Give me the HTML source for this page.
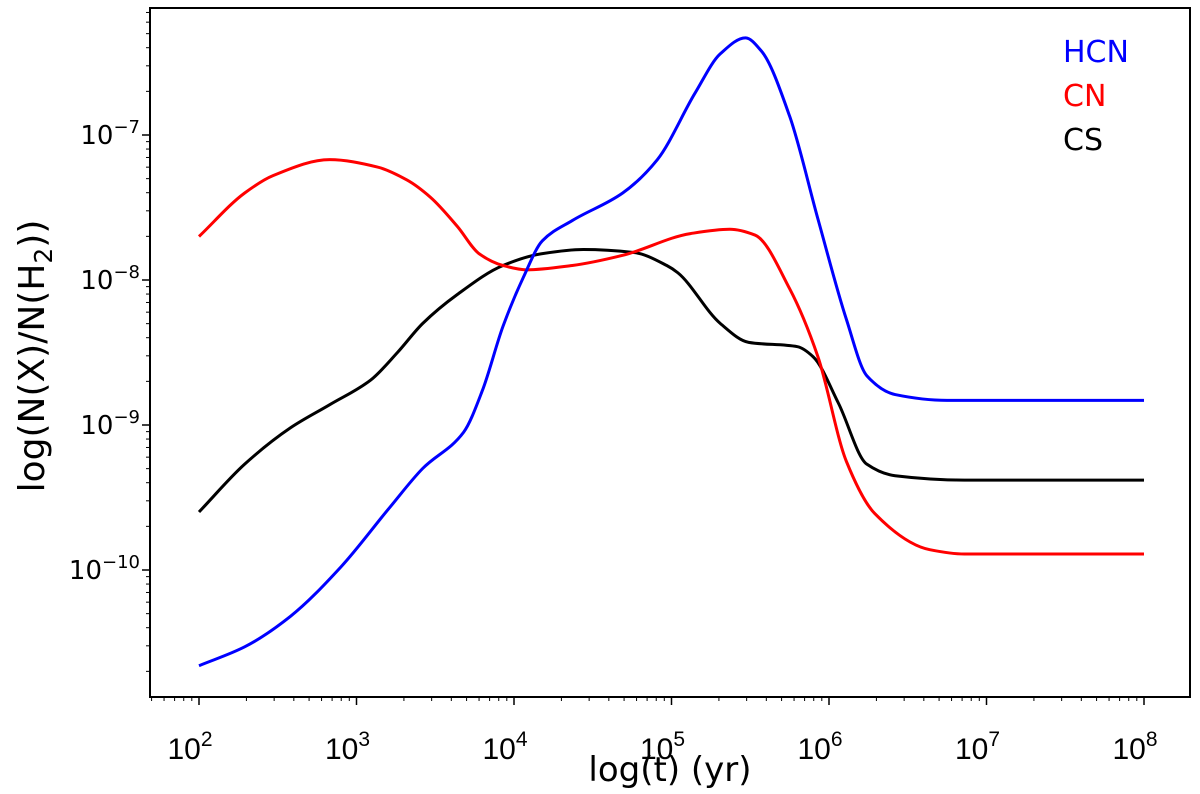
<!DOCTYPE html>
<html><head><meta charset="utf-8"><style>
html,body{margin:0;padding:0;background:#fff;}
svg{display:block;font-family:"DejaVu Sans","Liberation Sans",sans-serif;}
</style></head><body>
<svg id="chart" width="1200" height="794" viewBox="0 0 1200 794">
<rect x="0" y="0" width="1200" height="794" fill="#fff"/>
<g id="ticks"></g>
<g id="lines"></g>
<rect x="150" y="8" width="1040" height="689" fill="none" stroke="#000" stroke-width="2"/>
<text x="670" y="781" font-size="34" text-anchor="middle">log(t) (yr)</text>
<text transform="translate(44,356) rotate(-90)" font-size="36" text-anchor="middle">log(N(X)/N(H<tspan font-size="25" dy="8">2</tspan><tspan dy="-8">))</tspan></text>
<text x="1063" y="62" font-size="30" fill="#0000ff">HCN</text>
<text x="1063" y="106" font-size="30" fill="#ff0000">CN</text>
<text x="1063" y="150" font-size="30" fill="#000">CS</text>
</svg>
<script>
// data in log10 units
const xTickExps = [2,3,4,5,6,7,8];
const yTickExps = [-7,-8,-9,-10];
const hcnT = [2.0,2.29,2.58,2.90,3.21,3.42,3.68,3.80,3.93,4.06,4.18,4.37,4.69,4.91,5.15,5.31,5.47,5.57,5.75,5.93,6.11,6.24,6.42,6.75,7.2,8.0];
const hcnV = [-10.66,-10.53,-10.32,-9.98,-9.57,-9.30,-9.05,-8.76,-8.32,-7.98,-7.73,-7.59,-7.40,-7.17,-6.71,-6.44,-6.33,-6.42,-6.87,-7.58,-8.27,-8.66,-8.79,-8.83,-8.83,-8.83];
const cnT = [2.0,2.29,2.47,2.83,3.13,3.32,3.47,3.64,3.78,3.93,4.08,4.37,4.69,5.12,5.37,5.53,5.75,5.93,6.11,6.29,6.64,6.86,7.3,8.0];
const cnV = [-7.70,-7.40,-7.28,-7.17,-7.22,-7.31,-7.43,-7.63,-7.82,-7.90,-7.93,-7.90,-7.83,-7.68,-7.65,-7.69,-8.06,-8.53,-9.25,-9.61,-9.86,-9.89,-9.89,-9.89];
const csT = [2.0,2.29,2.58,2.83,3.09,3.26,3.42,3.64,3.93,4.17,4.44,4.76,4.97,5.04,5.31,5.49,5.80,5.90,6.06,6.24,6.42,6.86,7.3,8.0];
const csV = [-9.60,-9.27,-9.02,-8.86,-8.69,-8.50,-8.30,-8.10,-7.90,-7.82,-7.79,-7.81,-7.90,-7.95,-8.30,-8.43,-8.46,-8.53,-8.85,-9.27,-9.35,-9.38,-9.38,-9.38];

const NS='http://www.w3.org/2000/svg';
const L=150,R=1190,T=8,B=697;
function xs(e){return 199+(e-2)*157.5;}
function ys(e){return 135-(e+7)*145;}
const tg=document.getElementById('ticks');
function line(x1,y1,x2,y2,w){const l=document.createElementNS(NS,'line');
l.setAttribute('x1',x1);l.setAttribute('y1',y1);l.setAttribute('x2',x2);l.setAttribute('y2',y2);
l.setAttribute('stroke','#000');l.setAttribute('stroke-width',w);


tg.appendChild(l);}
const xmin=2+(L-199)/157.5,xmax=2+(R-199)/157.5;
for(let d=1;d<=8;d++){for(let k=1;k<10;k++){const e=d+Math.log10(k);if(e<xmin||e>xmax)continue;const x=xs(e);line(x,B,x,B+(k===1?8:4),k===1?1.5:1);}}
const ymax=-7+(135-T)/145,ymin=-7-(B-135)/145;
for(let d=-11;d<=-6;d++){for(let k=1;k<10;k++){const e=d+Math.log10(k);if(e<ymin||e>ymax)continue;const y=ys(e);line(L,y,L-(k===1?8:4),y,k===1?1.5:1);}}
xTickExps.forEach(e=>{const t=document.createElementNS(NS,'text');
t.setAttribute('x',xs(e)-9);t.setAttribute('y',759);t.setAttribute('font-size','30');t.setAttribute('text-anchor','middle');
t.setAttribute('font-family','"Liberation Sans Narrow","Liberation Sans",sans-serif');


t.innerHTML='10<tspan font-size="21" dy="-13">'+e+'</tspan>';tg.appendChild(t);});
yTickExps.forEach(e=>{const t=document.createElementNS(NS,'text');
t.setAttribute('x',140);t.setAttribute('y',ys(e)+9);t.setAttribute('font-size','26');t.setAttribute('text-anchor','end');


t.innerHTML='10<tspan font-size="18" dy="-11">\u2212'+Math.abs(e)+'</tspan>';tg.appendChild(t);});
function path(ts,vs){const X=ts.map(xs),Y=vs.map(ys),n=X.length;const d=[],m=new Array(n);
for(let i=0;i<n-1;i++)d.push((Y[i+1]-Y[i])/(X[i+1]-X[i]));
m[0]=d[0];m[n-1]=d[n-2];
for(let i=1;i<n-1;i++){if(d[i-1]*d[i]<=0)m[i]=0;else{const h0=X[i]-X[i-1],h1=X[i+1]-X[i];const w1=2*h1+h0,w2=h1+2*h0;m[i]=(w1+w2)/(w1/d[i-1]+w2/d[i]);}}
let s='M'+X[0]+','+Y[0];
for(let i=0;i<n-1;i++){const h=X[i+1]-X[i];s+=' C'+(X[i]+h/3)+','+(Y[i]+m[i]*h/3)+' '+(X[i+1]-h/3)+','+(Y[i+1]-m[i+1]*h/3)+' '+X[i+1]+','+Y[i+1];}
return s;}
const lg=document.getElementById('lines');
[[csT,csV,'#000','cs-line'],[cnT,cnV,'#ff0000','cn-line'],[hcnT,hcnV,'#0000ff','hcn-line']].forEach(s=>{
const el=document.createElementNS(NS,'path');el.setAttribute('d',path(s[0],s[1]));el.setAttribute('fill','none');
el.setAttribute('stroke',s[2]);el.setAttribute('stroke-width','3');


lg.appendChild(el);});
</script>
</body></html>
